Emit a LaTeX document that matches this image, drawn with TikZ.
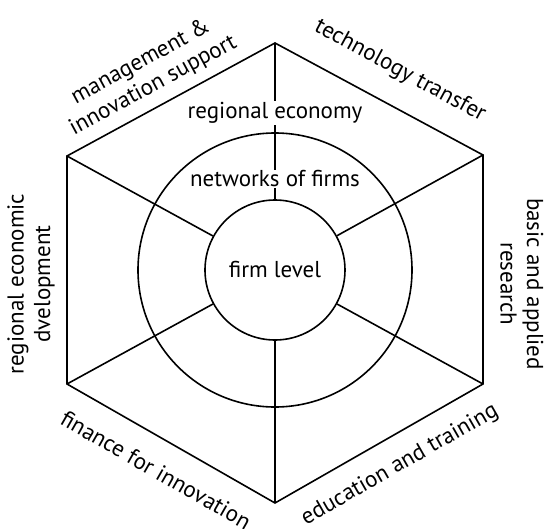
\documentclass[tikz,border=0pt]{standalone}
\usepackage{fontspec}
\setmainfont{PT Sans}

\begin{document}
\begin{tikzpicture}
[-,x=1pt,y=1pt,line width=1.6pt,%
  every node/.style={font=\fontsize{23}{26.5}\selectfont,align=center},%
  ring/.style={shape=circle,draw,line width=1.6pt},%
  lbl/.style={fill=white,inner sep=1pt}]
\useasboundingbox (-275,-258) rectangle (269,270);
% hexagon corners
\coordinate (top) at (0,227);
\coordinate (ur) at (208,115);
\coordinate (lr) at (208,-114);
\coordinate (bot) at (0,-233);
\coordinate (ll) at (-208,-114);
\coordinate (ul) at (-208,114);
\draw (top) -- (ur) -- (lr) -- (bot) -- (ll) -- (ul) -- cycle;
% rings
\node[ring,minimum size=274] (net) at (0,0) {};
\node[ring,minimum size=140] (firm) at (0,0) {firm level};
\foreach \v in {top,ur,lr,bot,ll,ul}
  \draw (\v) -- (firm);
\node[lbl] (eco) at (0,157) {regional economy};
\node[lbl] (nets) at (0,91) {networks of firms};
% outer labels
\node[rotate=28.5] (mgmt) at (-128,196) {management \&\\innovation support};
\node[rotate=-28.5] (tech) at (125,199) {technology transfer};
\node[rotate=-90] (res) at (247,-14) {basic and applied\\research};
\node[rotate=29.8] (edu) at (125,-195) {education and training};
\node[rotate=-29.8] (fin) at (-119,-200) {finance for innovation};
\node[rotate=90] (dev) at (-244,-14) {regional economic\\dvelopment};
\end{tikzpicture}
\end{document}
